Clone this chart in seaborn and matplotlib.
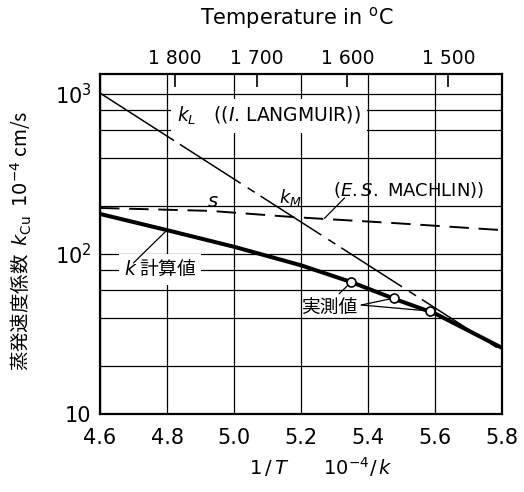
import matplotlib
matplotlib.use("Agg")
import matplotlib.pyplot as plt
from matplotlib.ticker import FixedLocator, NullFormatter, FixedFormatter
import numpy as np
import pandas as pd
import seaborn as sns

# Reciprocal temperature (10^-4 /K) and evaporation rate coefficient k_Cu (10^-4 cm/s)
k_calc_x = [4.6, 4.8, 5.0, 5.2, 5.35, 5.48, 5.6, 5.8]
k_calc_y = [178, 141, 111, 85, 66.8, 52.3, 42.5, 25.9]

k_meas_x = [5.35, 5.479, 5.584]
k_meas_y = [66.8, 53.1, 44.0]

s_x = [4.6, 4.93, 5.18, 5.48, 5.8]
s_y = [194, 186, 170, 156, 141]

kL_x = [4.6, 4.8, 5.8]
kL_y = [1014, 546, 24.8]

x_ticks = [4.6, 4.8, 5.0, 5.2, 5.4, 5.6, 5.8]
x_tick_labels = ["4.6", "4.8", "5.0", "5.2", "5.4", "5.6", "5.8"]
y_major = [10, 100, 1000]
y_major_labels = ["10", "$10^2$", "$10^3$"]
y_minor = [20, 40, 60, 80, 200, 400, 600, 800]
temp_ticks = [1800, 1700, 1600, 1500]
temp_labels = ["1 800", "1 700", "1 600", "1 500"]

sns.set_style("white")
plt.rcParams["font.family"] = ["DejaVu Sans", "Noto Sans CJK JP"]
plt.rcParams["lines.scale_dashes"] = False
plt.rcParams["text.color"] = "black"
plt.rcParams["axes.labelcolor"] = "black"
plt.rcParams["xtick.color"] = "black"
plt.rcParams["ytick.color"] = "black"
cjk = ["Noto Sans CJK JP", "DejaVu Sans"]

fig = plt.figure(figsize=(5.24, 4.92), dpi=100)
ax = fig.add_axes([100 / 524, 1 - 414 / 492, 402 / 524, 340 / 492])
ax.set_yscale("log")
ax.set_xlim(4.6, 5.8)
ax.set_ylim(10, 1334)

# grid
ax.xaxis.set_major_locator(FixedLocator(x_ticks))
ax.xaxis.set_major_formatter(FixedFormatter(x_tick_labels))
ax.yaxis.set_major_locator(FixedLocator(y_major))
ax.yaxis.set_major_formatter(FixedFormatter(y_major_labels))
ax.yaxis.set_minor_locator(FixedLocator(y_minor))
ax.yaxis.set_minor_formatter(NullFormatter())
ax.grid(True, which="both", color="black", lw=0.9, zorder=0)
ax.set_axisbelow(True)
ax.tick_params(axis="both", which="both", length=0, labelsize=15, colors="black")
ax.tick_params(axis="x", pad=10)
ax.tick_params(axis="y", pad=6)
for sp in ax.spines.values():
    sp.set_color("black")
    sp.set_linewidth(1.6)

# curves
df_k = pd.DataFrame({"x": k_calc_x, "y": k_calc_y})
sns.lineplot(data=df_k, x="x", y="y", ax=ax, color="black", lw=2.9, zorder=4)

df_s = pd.DataFrame({"x": s_x, "y": s_y})
sns.lineplot(data=df_s, x="x", y="y", ax=ax, color="black", lw=1.4, zorder=3)
ax.lines[-1].set_dashes((14, 7))

sns.lineplot(x=kL_x[:2], y=kL_y[:2], ax=ax, color="black", lw=1.1, zorder=3)
sns.lineplot(x=kL_x[1:], y=kL_y[1:], ax=ax, color="black", lw=1.1, zorder=3)
ax.lines[-1].set_dashes((6, 5, 52, 6))

sns.scatterplot(x=k_meas_x, y=k_meas_y, ax=ax, s=42, facecolor="white",
                edgecolor="black", linewidth=1.2, zorder=6)

# labels on the curves
box = dict(boxstyle="square,pad=0.3", fc="white", ec="none")
ax.text(4.83, 730, r"$k_L$   (($\mathit{I}$. LANGMUIR))", fontsize=13.5,
        ha="left", va="center", bbox=box, zorder=2, color="black")
ax.text(5.17, 227, r"$k_M$", fontsize=13, ha="center", va="center", zorder=5,
        color="black")
ax.text(5.296, 251, r"($\mathit{E.S.}$ MACHLIN))", fontsize=13,
        ha="left", va="center", zorder=5, color="black")
ax.text(4.936, 214, r"$s$", fontsize=14, ha="center", va="center", zorder=5,
        color="black")
ax.text(4.78, 80, r"$k$ 計算値", fontsize=13.5, ha="center", va="center",
        family=cjk, bbox=dict(boxstyle="square,pad=0.25", fc="white", ec="none"),
        zorder=2, color="black")
ax.text(5.284, 46.6, "実測値", fontsize=13.5, ha="center", va="center",
        family=cjk, zorder=5, color="black")

leader = dict(arrowstyle="-", lw=0.9, color="black", shrinkA=0, shrinkB=0)
ax.annotate("", xy=(k_calc_x[1], k_calc_y[1]), xytext=(4.70, 88), arrowprops=leader)
ax.annotate("", xy=(5.27, 167), xytext=(5.33, 224), arrowprops=leader)
ax.annotate("", xy=(k_meas_x[0], k_meas_y[0]), xytext=(5.314, 56.5), arrowprops=leader)
ax.annotate("", xy=(k_meas_x[1], k_meas_y[1]), xytext=(5.38, 48), arrowprops=leader)
ax.annotate("", xy=(k_meas_x[2], k_meas_y[2]), xytext=(5.38, 48), arrowprops=leader)

# temperature scale on top
def inv_to_celsius(x):
    x = np.asarray(x, dtype=float)
    return 1e4 / x - 273.15

def celsius_to_inv(t):
    t = np.asarray(t, dtype=float)
    return 1e4 / (t + 273.15)

top = ax.secondary_xaxis("top", functions=(inv_to_celsius, celsius_to_inv))
top.set_xticks(temp_ticks)
top.set_xticklabels(temp_labels)
top.tick_params(direction="in", length=9, width=1.2, labelsize=13.5, pad=4,
                colors="black")
top.spines["top"].set_visible(False)

fig.text(297 / 524, 1 - 18 / 492, r"Temperature in $^{\mathrm{o}}$C",
         fontsize=15, ha="center", va="center", color="black")

ax.set_xlabel("")
ax.set_ylabel(r"蒸発速度係数  $k_{\mathrm{Cu}}$  $10^{-4}$ cm/s", fontsize=14,
              family=cjk, color="black")
ax.yaxis.set_label_coords(-0.165, 0.51)
ax.text(0.55, -0.155, r"$1\,/\,T$      $10^{-4}/\,\mathit{k}$", fontsize=14,
        ha="center", va="center", transform=ax.transAxes, color="black")

fig.savefig("out.png", dpi=100)
